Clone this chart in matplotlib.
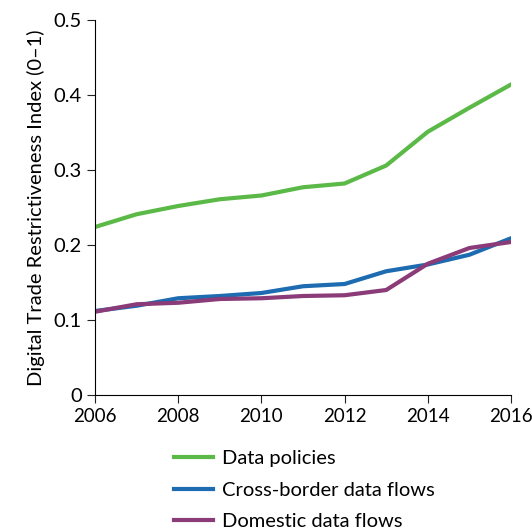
import matplotlib.pyplot as plt

plt.rcParams["font.family"] = ["Lato", "DejaVu Sans"]

years = list(range(2006, 2017))
data_policies = [0.224, 0.241, 0.252, 0.261, 0.266, 0.277, 0.282, 0.306, 0.351, 0.383, 0.414]
cross_border = [0.112, 0.119, 0.129, 0.132, 0.136, 0.145, 0.148, 0.165, 0.174, 0.187, 0.209]
domestic = [0.111, 0.121, 0.123, 0.128, 0.129, 0.132, 0.133, 0.140, 0.175, 0.196, 0.204]

fig = plt.figure(figsize=(5.32, 5.30), dpi=100)
ax = fig.add_axes([95 / 532, 135 / 530, 416 / 532, 375 / 530])

ax.plot(years, data_policies, color="#5bb947", lw=3, label="Data policies")
ax.plot(years, cross_border, color="#1d6bb0", lw=3, label="Cross-border data flows")
ax.plot(years, domestic, color="#8a3b78", lw=3, label="Domestic data flows")

ax.set_xlim(2006, 2016)
ax.set_ylim(0, 0.5)
ax.set_xticks(range(2006, 2017, 2))
ax.set_yticks([0, 0.1, 0.2, 0.3, 0.4, 0.5])
ax.set_yticklabels(["0", "0.1", "0.2", "0.3", "0.4", "0.5"])
ax.spines["top"].set_visible(False)
ax.spines["right"].set_visible(False)
ax.tick_params(direction="out", length=6, labelsize=14.5, color="#222222")
ax.tick_params(axis="x", labelsize=13.5)
ax.set_ylabel("Digital Trade Restrictiveness Index (0\u20131)", fontsize=14.5, labelpad=6)

fig.legend(loc="upper left", bbox_to_anchor=(166 / 532, 1 - 442 / 530),
           frameon=False, fontsize=14.5, handlelength=1.95, labelspacing=0.72,
           handletextpad=0.45, borderaxespad=0)

fig.savefig("out.png", dpi=100)
